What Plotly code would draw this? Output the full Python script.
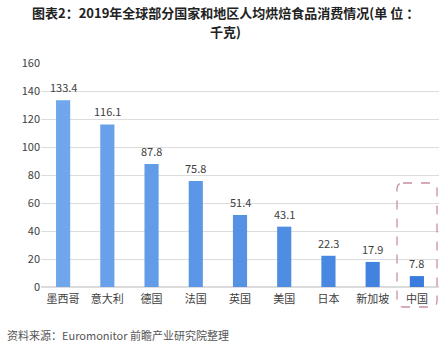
import plotly.graph_objects as go

categories = ["墨西哥", "意大利", "德国", "法国", "英国", "美国", "日本", "新加坡", "中国"]
values = [133.4, 116.1, 87.8, 75.8, 51.4, 43.1, 22.3, 17.9, 7.8]
labels = ["133.4", "116.1", "87.8", "75.8", "51.4", "43.1", "22.3", "17.9", "7.8"]
bar_colors = ["#6FA6EC", "#68A1EA", "#629CE8", "#5B97E6", "#5592E4", "#4E8DE2", "#4888E1", "#4283DF", "#3A7BDE"]
title_line1 = "图表2：2019年全球部分国家和地区人均烘焙食品消费情况(单 位 ："
title_line2 = "千克)"
source_text = "资料来源：Euromonitor 前瞻产业研究院整理"

font_family = "Noto Sans CJK SC, Noto Sans, sans-serif"

# plot area geometry in pixels
L, R, T, B = 41, 9, 63, 66
W, H = 448, 353
pw, ph = W - L - R, H - T - B


def px_x(x):
    return (x - L) / pw


def px_y(y):
    return (H - B - y) / ph


fig = go.Figure()
fig.add_trace(go.Bar(
    x=categories, y=values,
    marker=dict(color=bar_colors, line=dict(width=0)),
    hoverinfo="x+y",
))

# value labels above bars
value_annotations = [
    dict(x=c, y=v, text=t, xref="x", yref="y", xanchor="center", yanchor="bottom",
         yshift=3, showarrow=False,
         font=dict(size=11, color="#404040", family=font_family))
    for c, v, t in zip(categories, values, labels)
]

# rounded dashed highlight around China
x0, x1, y0, y1 = px_x(397), px_x(437), px_y(307), px_y(183)
rx, ry = 6 / pw, 6 / ph
path = (f"M {x0+rx},{y1} L {x1-rx},{y1} Q {x1},{y1} {x1},{y1-ry} "
        f"L {x1},{y0+ry} Q {x1},{y0} {x1-rx},{y0} L {x0+rx},{y0} "
        f"Q {x0},{y0} {x0},{y0+ry} L {x0},{y1-ry} Q {x0},{y1} {x0+rx},{y1} Z")
fig.add_shape(type="path", path=path, xref="paper", yref="paper",
              line=dict(color="#C9909E", width=1.3, dash="dash"))

title_font = dict(size=13, color="#222222", family=font_family)
fig.update_layout(
    width=W, height=H,
    margin=dict(l=L, r=R, t=T, b=B),
    paper_bgcolor="white", plot_bgcolor="white",
    showlegend=False,
    bargap=0.68,
    font=dict(family=font_family, size=11, color="#404040"),
    xaxis=dict(showline=False, ticks="", ticklabelstandoff=4,
               tickfont=dict(size=11, color="#404040")),
    yaxis=dict(range=[0, 160], dtick=20, showgrid=True, gridcolor="#DCDCDC",
               gridwidth=1, zeroline=True, zerolinecolor="#DCDCDC", ticks="",
               tickfont=dict(size=11, color="#404040"), showline=False),
    annotations=value_annotations + [
        dict(text=f"<b>{title_line1}</b>", xref="paper", yref="paper",
             x=px_x(225), y=px_y(13), xanchor="center", yanchor="middle",
             showarrow=False, font=title_font),
        dict(text=f"<b>{title_line2}</b>", xref="paper", yref="paper",
             x=px_x(225), y=px_y(32), xanchor="center", yanchor="middle",
             showarrow=False, font=title_font),
        dict(text=source_text, xref="paper", yref="paper",
             x=px_x(5), y=px_y(335), xanchor="left", yanchor="middle",
             showarrow=False, font=dict(size=11, color="#555555", family=font_family)),
    ],
)

fig.write_html("out.html")
